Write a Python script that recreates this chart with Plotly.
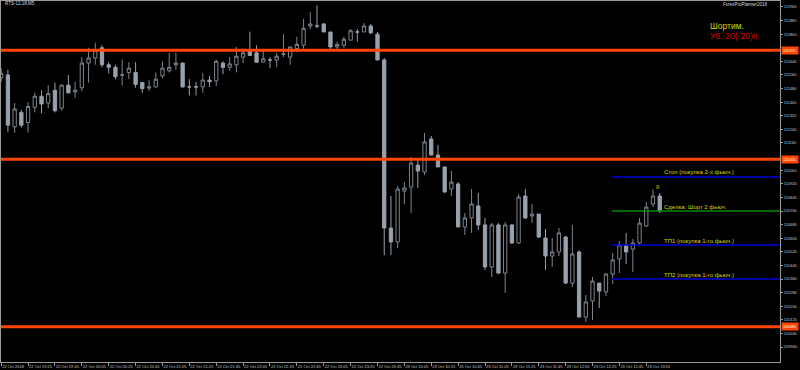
import plotly.graph_objects as go

# ---- M5 candles, RTS-12.18 ----
opens = [111545, 111560, 111255, 111340, 111280, 111370, 111435, 111395, 111470, 111365,
         111500, 111460, 111485, 111630, 111660, 111720, 111620, 111605, 111560, 111575,
         111575, 111515, 111483, 111490, 111555, 111585, 111620, 111630, 111490, 111490,
         111490, 111530, 111525, 111630, 111605, 111620, 111665, 111700, 111690, 111635,
         111648, 111648, 111683, 111665, 111715, 111735, 111848, 111848, 111860, 111813,
         111725, 111735, 111765, 111813, 111813, 111848, 111800, 111648, 110660, 110578,
         110877, 110901, 111030, 110989, 111183, 111089, 111019, 110889, 110919, 110666,
         110719, 110789, 110678, 110431, 110678, 110395, 110678, 110572, 110848, 110731,
         110742, 110601, 110495, 110519, 110607, 110336, 110519, 110136, 110231, 110336,
         110284, 110389, 110478, 110560, 110536, 110572, 110672, 110801, 110848]
highs = [111600, 111590, 111395, 111355, 111400, 111455, 111470, 111500, 111515, 111505,
         111560, 111520, 111665, 111720, 111750, 111735, 111635, 111620, 111650, 111635,
         111635, 111515, 111530, 111575, 111640, 111690, 111690, 111632, 111535, 111520,
         111570, 111555, 111650, 111640, 111665, 111725, 111715, 111815, 111735, 111705,
         111665, 111690, 111800, 111725, 111785, 111890, 111930, 111970, 111865, 111813,
         111755, 111785, 111830, 111830, 111865, 111860, 111813, 111660, 110848, 110907,
         110930, 111078, 111066, 111219, 111201, 111148, 111019, 110995, 110930, 110748,
         110889, 110866, 110719, 110689, 110689, 110695, 110683, 110860, 110889, 110801,
         110742, 110654, 110601, 110660, 110613, 110678, 110530, 110266, 110372, 110336,
         110395, 110513, 110583, 110631, 110595, 110719, 110813, 110889, 110866]
lows = [111520, 111225, 111220, 111250, 111220, 111340, 111335, 111365, 111340, 111350,
        111450, 111425, 111465, 111515, 111620, 111605, 111570, 111535, 111500, 111535,
        111485, 111455, 111465, 111485, 111540, 111575, 111590, 111485, 111440, 111440,
        111455, 111490, 111495, 111565, 111585, 111575, 111630, 111675, 111635, 111635,
        111600, 111605, 111665, 111620, 111695, 111715, 111830, 111835, 111813, 111713,
        111705, 111720, 111765, 111755, 111813, 111800, 111648, 110500, 110500, 110542,
        110801, 110748, 110895, 110972, 111089, 111019, 110866, 110848, 110666, 110619,
        110631, 110648, 110413, 110372, 110389, 110278, 110566, 110566, 110713, 110689,
        110601, 110413, 110431, 110495, 110331, 110313, 110136, 110107, 110119, 110189,
        110260, 110331, 110395, 110448, 110401, 110566, 110666, 110783, 110748]
closes = [111570, 111265, 111360, 111265, 111375, 111435, 111390, 111450, 111350, 111500,
          111455, 111470, 111630, 111660, 111705, 111620, 111605, 111550, 111560, 111600,
          111505, 111480, 111490, 111535, 111600, 111605, 111630, 111490, 111490, 111490,
          111530, 111520, 111640, 111605, 111625, 111670, 111690, 111675, 111635, 111655,
          111648, 111670, 111683, 111725, 111740, 111835, 111860, 111848, 111813, 111725,
          111740, 111770, 111820, 111813, 111848, 111808, 111648, 110660, 110578, 110889,
          110895, 111042, 110995, 111166, 111089, 111019, 110872, 110930, 110666, 110719,
          110801, 110678, 110431, 110678, 110395, 110678, 110572, 110842, 110719, 110742,
          110607, 110495, 110519, 110631, 110336, 110507, 110136, 110225, 110348, 110289,
          110389, 110472, 110560, 110519, 110572, 110689, 110783, 110848, 110760]
bar_index = list(range(len(opens)))

# ---- time-axis labels (every 4th bar) ----
time_tick_index = [0, 4, 8, 12, 16, 20, 24, 28, 32, 36, 40, 44, 48, 52, 56,
                   60, 64, 68, 72, 76, 80, 84, 88, 92, 96]
time_tick_text = ["22 Oct 2018", "22 Oct 19:25", "22 Oct 19:45", "22 Oct 20:05", "22 Oct 20:25",
                  "22 Oct 20:45", "22 Oct 21:05", "22 Oct 21:25", "22 Oct 21:45", "22 Oct 22:05",
                  "22 Oct 22:25", "22 Oct 22:45", "22 Oct 23:05", "22 Oct 23:25", "22 Oct 23:45",
                  "23 Oct 10:05", "23 Oct 10:25", "23 Oct 10:45", "23 Oct 11:05", "23 Oct 11:25",
                  "23 Oct 11:45", "23 Oct 12:05", "23 Oct 12:25", "23 Oct 12:45", "23 Oct 13:05"]

# ---- price-axis labels ----
price_ticks = [111960, 111880, 111800, 111640, 111560, 111480, 111400, 111320, 111240,
               111160, 111000, 110920, 110840, 110760, 110680, 110600, 110520, 110440,
               110360, 110280, 110200, 110120, 110040, 109960]

# ---- horizontal levels ----
sr_levels = [111705, 111065, 110080]
trade_levels = [110960, 110760, 110560, 110360]
trade_texts = ["Стоп (покупка 2-х фьюч.)", "Сделка: Шорт 2 фьюч.",
               "ТП1 (покупка 1-го фьюч.)", "ТП2 (покупка 1-го фьюч.)"]
trade_colors = ["#0000d8", "#008a00", "#0000d8", "#0000d8"]
trade_start_bar = 90.9
trade_label_bar = 98.4
signal_bar = 97.8
signal_price = 110900

X_RANGE = [-0.03, 115.9]
Y_RANGE = [109872, 111995]
FONT = "Liberation Sans"
AXIS_GRAY = "#9a9a9a"
LABEL_GRAY = "#c8c8c8"
YELLOW = "#d6d600"

fig = go.Figure()
fig.add_trace(go.Candlestick(
    x=bar_index, open=opens, high=highs, low=lows, close=closes,
    increasing=dict(line=dict(color="#7c858e", width=1), fillcolor="#000000"),
    decreasing=dict(line=dict(color="#97a2ad", width=1), fillcolor="#97a2ad"),
    whiskerwidth=0, showlegend=False, hoverinfo="skip"))

for lvl, col in zip(trade_levels, trade_colors):
    fig.add_trace(go.Scatter(x=[trade_start_bar, X_RANGE[1]], y=[lvl, lvl], mode="lines",
                             line=dict(color=col, width=1.3), showlegend=False, hoverinfo="skip"))

for lvl in sr_levels:
    fig.add_hline(y=lvl, line=dict(color="#ff4500", width=3), layer="above")
    fig.add_annotation(x=1, xref="paper", y=lvl, yref="y", xanchor="left", yanchor="middle",
                       xshift=1, text=str(lvl), showarrow=False, bgcolor="#ff4500",
                       borderpad=1, font=dict(size=4, color="#ffffff", family=FONT))

for lvl, txt in zip(trade_levels, trade_texts):
    fig.add_annotation(x=trade_label_bar, y=lvl, xanchor="left", yanchor="middle", yshift=4.5,
                       text=txt, showarrow=False, font=dict(size=6, color=YELLOW, family=FONT))

fig.add_annotation(x=signal_bar, y=signal_price, text="δ", showarrow=False,
                   font=dict(size=6, color=YELLOW, family=FONT))

fig.add_annotation(x=0.0026, y=0.993, xref="paper", yref="paper", xanchor="left", yanchor="middle",
                   text="RTS-12.18,M5", showarrow=False, font=dict(size=4.5, color="#d8d8d8", family=FONT))
fig.add_annotation(x=0.9872, y=0.989, xref="paper", yref="paper", xanchor="right", yanchor="middle",
                   text="ForexProPlanner2018", showarrow=False, font=dict(size=4.5, color="#d8d8d8", family=FONT))
fig.add_annotation(x=0.9076, y=0.9307, xref="paper", yref="paper", xanchor="left", yanchor="middle",
                   text="Шортим.", showarrow=False, font=dict(size=8.5, color=YELLOW, family=FONT))
fig.add_annotation(x=0.9076, y=0.9017, xref="paper", yref="paper", xanchor="left", yanchor="middle",
                   text="У6.-20(-20)п.", showarrow=False, font=dict(size=8.5, color="#dd0000", family=FONT))

fig.update_layout(
    width=800, height=370, margin=dict(l=1, r=20, t=1, b=8, autoexpand=False),
    paper_bgcolor="#000000", plot_bgcolor="#000000", showlegend=False,
    xaxis=dict(range=X_RANGE, tickmode="array", tickvals=time_tick_index, ticktext=time_tick_text,
               ticks="outside", ticklen=3, tickcolor=AXIS_GRAY, ticklabelposition="outside right",
               tickangle=0, automargin=False,
               tickfont=dict(size=4, color=LABEL_GRAY, family=FONT),
               showgrid=False, zeroline=False, showline=True, linecolor=AXIS_GRAY, linewidth=1,
               mirror=True, rangeslider=dict(visible=False), fixedrange=True),
    yaxis=dict(range=Y_RANGE, side="right", tickmode="array", tickvals=price_ticks,
               ticktext=[str(v) for v in price_ticks], ticks="outside", ticklen=2, tickcolor=AXIS_GRAY,
               automargin=False,
               tickfont=dict(size=4, color=LABEL_GRAY, family=FONT),
               showgrid=False, zeroline=False, showline=True, linecolor=AXIS_GRAY, linewidth=1,
               mirror=True, fixedrange=True),
)

fig.write_html("out.html")
